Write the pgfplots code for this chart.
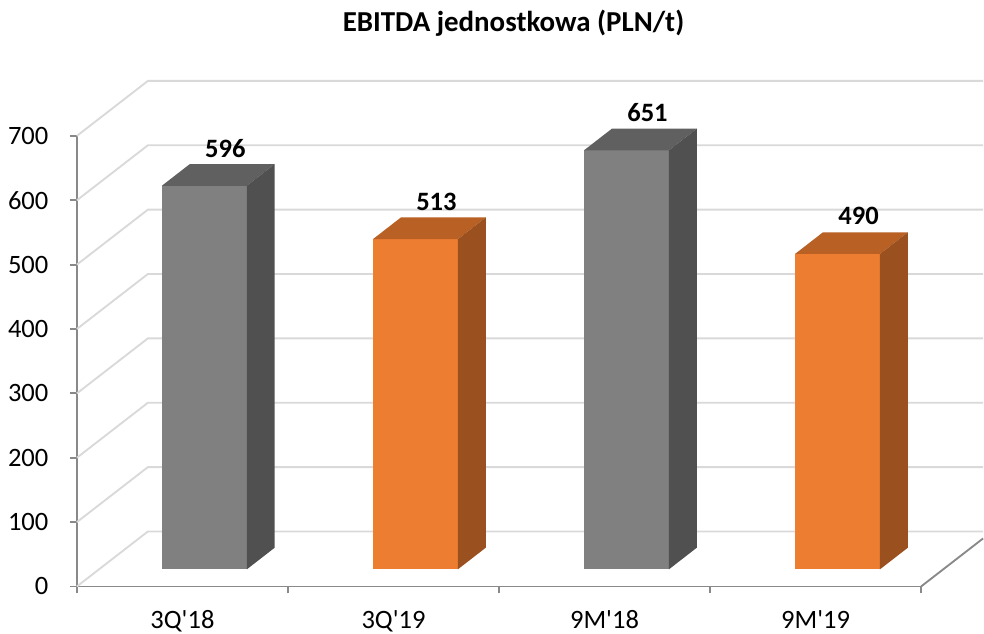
\documentclass[border=0pt]{standalone}
\usepackage{fontspec}
\setmainfont{Carlito}
\usepackage{pgfplots}
\usepackage{pgfplotstable}
\pgfplotsset{compat=1.18}
\definecolor{gF}{RGB}{128,128,128}
\definecolor{gT}{RGB}{96,96,96}
\definecolor{gS}{RGB}{80,80,80}
\definecolor{oF}{RGB}{237,125,49}
\definecolor{oT}{RGB}{185,96,37}
\definecolor{oS}{RGB}{155,81,31}
\definecolor{gridc}{RGB}{217,217,217}
\definecolor{axisc}{RGB}{137,137,137}

\pgfplotstableread{
x v c
0 596 g
1 513 o
2 651 g
3 490 o
}\data

\begin{document}
\begin{tikzpicture}
\begin{axis}[
 scale only axis, width=633.75pt, height=338.25pt,
 xmin=0, xmax=4, ymin=0, ymax=700,
 clip=false,
 axis x line*=bottom, axis y line*=left,
 axis line style={axisc, line width=1.4pt, -},
 ytick={0,100,...,700}, xtick={0,1,2,3,4},
 x tick label as interval,
 xticklabels={3Q\textquotesingle18,3Q\textquotesingle19,9M\textquotesingle18,9M\textquotesingle19},
 tick align=outside, major tick length=5.25pt,
 tick style={axisc, line width=1.4pt},
 ticklabel style={font=\fontsize{19.9}{22}\selectfont},
 /pgf/number format/assume math mode=true,
 yticklabel style={anchor=east, inner sep=0pt, xshift=-16pt},
 xticklabel style={anchor=base, inner sep=0pt, yshift=-26pt},
]
% bounding box of the full picture
\path (axis cs:-0.3645,911.1) rectangle (axis cs:4.2935,-72.95);
% side wall diagonals and back wall gridlines
\pgfplotsinvokeforeach{0,100,...,700}{
 \addplot[gridc, line width=1.4pt, forget plot] table[row sep=\\, y expr=\thisrow{y}+#1]{x y\\ 0 0\\ 0.3361 85.36\\ 4.2935 85.36\\};
}
% floor right edge
\addplot[axisc, line width=1.4pt, forget plot] coordinates {(4,0) (4.2935,74.54)};
% 3D bars
\pgfplotsinvokeforeach{0,...,3}{
 \pgfplotstablegetelem{#1}{v}\of\data \let\v\pgfplotsretval
 \pgfplotstablegetelem{#1}{c}\of\data \let\c\pgfplotsretval
 \pgfmathsetmacro\xa{#1+0.4024}
 \pgfmathsetmacro\xb{#1+0.8047}
 \pgfmathsetmacro\xc{#1+0.9372}
 \pgfmathsetmacro\xd{#1+0.5349}
 \pgfmathsetmacro\ya{26.5}
 \pgfmathsetmacro\yb{26.5+\v}
 \pgfmathsetmacro\yc{60.2+\v}
 \pgfmathsetmacro\yd{60.2}
 \edef\doit{%
  \noexpand\addplot[fill=\c F, draw=none, forget plot] coordinates {(\xa,\ya) (\xb,\ya) (\xb,\yb) (\xa,\yb)} -- cycle;
  \noexpand\addplot[fill=\c T, draw=none, forget plot] coordinates {(\xa,\yb) (\xb,\yb) (\xc,\yc) (\xd,\yc)} -- cycle;
  \noexpand\addplot[fill=\c S, draw=none, forget plot] coordinates {(\xb,\ya) (\xc,\yd) (\xc,\yc) (\xb,\yb)} -- cycle;
 }%
 \doit
}
% value labels
\addplot[draw=none, mark=none, forget plot, nodes near coords, point meta=explicit,
 nodes near coords style={font=\bfseries\fontsize{19.9}{22}\selectfont, anchor=center, inner sep=0pt}]
 table[x expr=\thisrow{x}+0.7035, y expr=\thisrow{v}+85, meta=v]{\data};
% title
\node[font=\bfseries\fontsize{21.7}{24}\selectfont, inner sep=0pt, anchor=base] at (axis cs:2.0687,861.4) {EBITDA jednostkowa (PLN/t)};
\end{axis}
\end{tikzpicture}
\end{document}
